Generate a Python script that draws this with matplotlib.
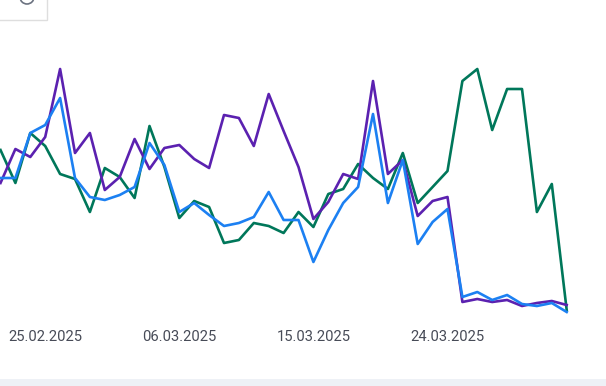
import numpy as np
import pandas as pd
from matplotlib import pyplot as plt
from matplotlib import patches
import matplotlib.dates as mdates

plt.rcParams['font.family'] = ['Roboto', 'DejaVu Sans']

# daily values, 22.02.2025 - 01.04.2025
dates = pd.date_range('2025-02-22', '2025-04-01', freq='D')
purple = [137, 171, 163, 183, 251, 167, 187, 130, 143, 181, 151, 172, 175, 161, 152,
          205, 202, 174, 226, 189, 153, 101, 118, 146, 141, 239, 146, 160, 104, 119,
          123, 18, 21, 18, 20, 14, 17, 19, 15]
blue = [142, 142, 187, 195, 222, 142, 123, 120, 125, 133, 177, 155, 108, 117, 105,
        94, 97, 103, 128, 100, 100, 58, 90, 117, 133, 206, 117, 160, 76, 98,
        111, 23, 28, 20, 25, 16, 14, 17, 8]
green = [170, 137, 187, 174, 146, 141, 108, 152, 143, 122, 194, 153, 102, 119, 113,
         77, 80, 97, 94, 87, 108, 93, 126, 131, 156, 142, 131, 167, 117, 133,
         149, 239, 251, 190, 231, 231, 108, 136, 10]
tick_dates = ['2025-02-25', '2025-03-06', '2025-03-15', '2025-03-24']
tick_labels = ['25.02.2025', '06.03.2025', '15.03.2025', '24.03.2025']

W, H = 606, 386
fig = plt.figure(figsize=(W / 100, H / 100), dpi=100)
ax = fig.add_axes([0, 66 / H, 1, 320 / H])

px_per_day = 14.9
x0 = mdates.date2num(dates[0]) - 0.5 / px_per_day
ax.set_xlim(x0, x0 + W / px_per_day)
ax.set_ylim(0, 320)

ax.plot(dates, green, color='#00775a', lw=1.9, zorder=2)
ax.plot(dates, purple, color='#5b21b0', lw=1.9, zorder=3)
ax.plot(dates, blue, color='#1c80f2', lw=1.9, zorder=4)

ax.set_xticks(pd.to_datetime(tick_dates))
ax.set_xticklabels(tick_labels)
ax.tick_params(axis='x', length=0, pad=7, labelsize=10.6, labelcolor='#474b57')
ax.set_yticks([])
for s in ax.spines.values():
    s.set_visible(False)

# top-left button box and icon (cropped)
fig.patches.append(patches.Rectangle((-0.01, 1 - 20 / H), 53 / W, 0.1,
                                     transform=fig.transFigure, facecolor='white',
                                     edgecolor='#dedede', lw=1))
fig.patches.append(patches.Ellipse((27 / W, 1 + 3 / H), 14 / W, 14 / H,
                                   transform=fig.transFigure, facecolor='none',
                                   edgecolor='#6b7280', lw=1.2))
# bottom grey strip
fig.patches.append(patches.Rectangle((0, 0), 1, 7 / H, transform=fig.transFigure,
                                     facecolor='#eef1f6', edgecolor='none'))

fig.savefig('out.png', dpi=100)
